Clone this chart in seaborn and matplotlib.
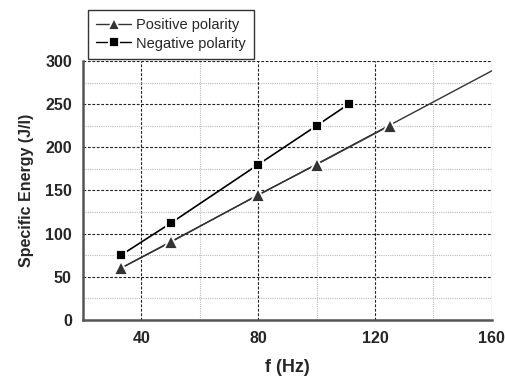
import matplotlib
matplotlib.use("Agg")
import matplotlib.pyplot as plt
import pandas as pd
import seaborn as sns
from matplotlib.lines import Line2D
from matplotlib.ticker import MultipleLocator

# data
freq_pos = [33, 50, 80, 100, 125]
energy_pos = [60, 90, 145, 180, 225]
freq_neg = [33, 50, 80, 100, 111]
energy_neg = [75, 112, 180, 225, 250]
# linear trend of positive polarity, drawn to the right edge
trend_x = [33, 160]
trend_y = [60, 288.5]

sns.set_style("white")
plt.rcParams["font.family"] = ["Liberation Sans", "DejaVu Sans"]

pos = pd.DataFrame({"f": freq_pos, "E": energy_pos})
neg = pd.DataFrame({"f": freq_neg, "E": energy_neg})
trend = pd.DataFrame({"f": trend_x, "E": trend_y})

fig = plt.figure(figsize=(5.06, 3.76), dpi=100)
ax = fig.add_axes([0.164, 0.149, 0.808, 0.689])

pos_col = "#333333"
neg_col = "#000000"

sns.lineplot(data=trend, x="f", y="E", ax=ax, color=pos_col, linewidth=1.0)
sns.lineplot(data=pos, x="f", y="E", ax=ax, color=pos_col, linewidth=1.0,
             marker="^", markersize=10, markeredgecolor="white",
             markeredgewidth=1.3)
sns.lineplot(data=neg, x="f", y="E", ax=ax, color=neg_col, linewidth=1.2,
             marker="s", markersize=7.5, markeredgecolor="white",
             markeredgewidth=1.3)

ax.set_xlim(20, 160)
ax.set_ylim(0, 300)
ax.xaxis.set_major_locator(MultipleLocator(40))
ax.xaxis.set_minor_locator(MultipleLocator(20))
ax.yaxis.set_major_locator(MultipleLocator(50))
ax.yaxis.set_minor_locator(MultipleLocator(25))

ax.grid(which="major", color="#222222", linestyle=(0, (2.5, 1.5)), linewidth=0.8)
ax.grid(which="minor", color="#bbbbbb", linestyle=(0, (1, 1)), linewidth=0.8)
ax.set_axisbelow(True)

for side in ["top", "right"]:
    ax.spines[side].set_visible(False)
for side in ["left", "bottom"]:
    ax.spines[side].set_color("#555555")
    ax.spines[side].set_linewidth(1.8)

ax.tick_params(which="major", direction="out", length=5, width=1.2,
               color="#555555", labelsize=11.5, pad=3)
ax.tick_params(which="minor", direction="out", length=3, width=1.0,
               color="#555555")
for lab in ax.get_xticklabels() + ax.get_yticklabels():
    lab.set_fontweight("bold")

ax.set_xlabel("f (Hz)", fontsize=13, fontweight="bold", labelpad=9)
ax.set_ylabel("Specific Energy (J/l)", fontsize=11.5, fontweight="bold", labelpad=8)

handles = [
    Line2D([], [], color=pos_col, marker="^", markersize=9, linewidth=1.0,
           markeredgecolor="white", markeredgewidth=1.3),
    Line2D([], [], color=neg_col, marker="s", markersize=7, linewidth=1.0,
           markeredgecolor="white", markeredgewidth=1.3),
]
leg = fig.legend(handles, ["Positive polarity", "Negative polarity"],
                 loc="upper left", bbox_to_anchor=(0.174, 0.973),
                 borderaxespad=0, fontsize=10.5, frameon=True, fancybox=False,
                 handlelength=2.4, handletextpad=0.35, borderpad=0.55,
                 labelspacing=0.3)
leg.get_frame().set_edgecolor("black")
leg.get_frame().set_linewidth(1.0)

fig.savefig("out.png", dpi=100)
